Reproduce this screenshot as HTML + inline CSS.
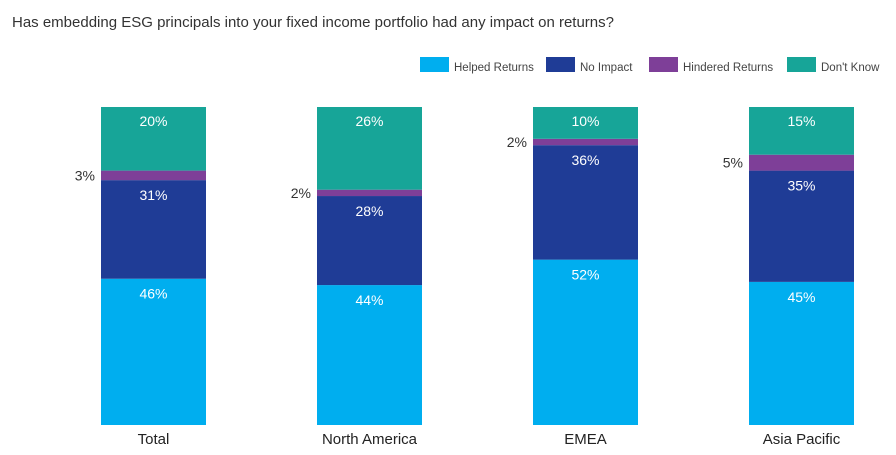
<!DOCTYPE html>
<html><head><meta charset="utf-8"><style>
body{margin:0;background:#fff;width:896px;height:450px;overflow:hidden;font-family:"Liberation Sans",sans-serif}
</style></head><body>
<svg width="896" height="450" id="chart">
<text x="12" y="27" font-size="15" fill="#333">Has embedding ESG principals into your fixed income portfolio had any impact on returns?</text>
</svg>
<script>
const categories = ["Total","North America","EMEA","Asia Pacific"];
const seriesNames = ["Helped Returns","No Impact","Hindered Returns","Don't Know"];
const helped = [46,44,52,45];
const noImpact = [31,28,36,35];
const hindered = [3,2,2,5];
const dontKnow = [20,26,10,15];
const colors = ["#00AEEF","#1F3C96","#7E3F98","#17A598"];
const NS="http://www.w3.org/2000/svg";
const svg=document.getElementById('chart');
const baseY=425, scale=3.18, barW=105;
const xPos=i=>101+i*216;
const yLen=v=>v*scale;
function mk(t,a){const e=document.createElementNS(NS,t);for(const k in a)e.setAttribute(k,a[k]);svg.appendChild(e);return e;}
const series=[helped,noImpact,hindered,dontKnow];
categories.forEach((c,i)=>{
  let y=baseY;
  series.forEach((s,j)=>{
    const h=yLen(s[i]); y-=h;
    const r=mk('rect',{x:xPos(i),y:y,width:barW,height:h,fill:colors[j]});
    
    
    let t;
    if(j===2){
      t=mk('text',{x:xPos(i)-6,y:y+h/2+5,'text-anchor':'end','font-size':14,fill:'#333'});
    } else {
      t=mk('text',{x:xPos(i)+barW/2,y:(j===3?y+19:y+20),'text-anchor':'middle','font-size':14,fill:'#fff'});
    }
    t.textContent=s[i]+'%';
    
    
  });
  const l=mk('text',{x:xPos(i)+barW/2,y:444,'text-anchor':'middle','font-size':15,fill:'#222'});
  l.textContent=c;
  
  
});
const legX=[420,546,649,787];
seriesNames.forEach((n,j)=>{
  const r=mk('rect',{x:legX[j],y:57,width:29,height:15,fill:colors[j]});
  
  
  const t=mk('text',{x:legX[j]+34,y:71,'font-size':11.5,fill:'#444'});
  t.textContent=n;
  
  
});
</script>
</body></html>
